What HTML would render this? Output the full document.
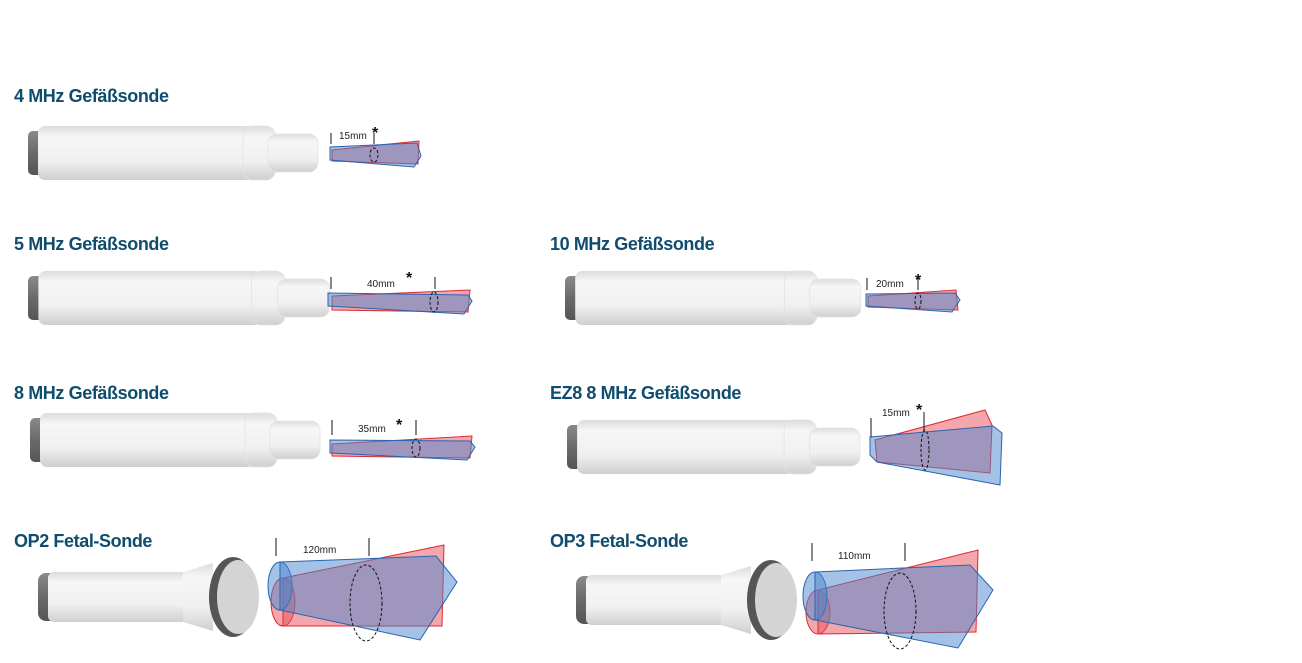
<!DOCTYPE html>
<html><head><meta charset="utf-8"><style>
html,body{margin:0;padding:0;background:#fff;}
svg{display:block}
.h{font-family:"Liberation Sans",sans-serif;font-weight:bold;font-size:18px;fill:#0f4c6e;letter-spacing:-0.4px}
.d{font-family:"Liberation Sans",sans-serif;font-size:10px;fill:#222}
.a{font-family:"Liberation Sans",sans-serif;font-size:16px;fill:#111;font-weight:bold}
.b{fill:#4a86cc;fill-opacity:.5;stroke:#2a64b0;stroke-width:1}
.r{fill:#e8505a;fill-opacity:.5;stroke:#e02830;stroke-width:1}
.e{fill:none;stroke:#111;stroke-width:1;stroke-dasharray:3,2}
.t{stroke:#111;stroke-width:1}
</style></head><body>
<svg width="1302" height="663" viewBox="0 0 1302 663">
<defs>
<linearGradient id="g" x1="0" y1="0" x2="0" y2="1">
<stop offset="0" stop-color="#dcdcdc"/><stop offset=".2" stop-color="#f6f6f6"/><stop offset=".65" stop-color="#f0f0f0"/><stop offset="1" stop-color="#cfcfcf"/></linearGradient>
<linearGradient id="gc" x1="0" y1="0" x2="0" y2="1">
<stop offset="0" stop-color="#8a8a8a"/><stop offset=".5" stop-color="#6a6a6a"/><stop offset="1" stop-color="#555"/></linearGradient>
<g id="pen">
<rect x="0" y="-22" width="22" height="44" rx="5" fill="url(#gc)"/>
<rect x="10" y="-27" width="215" height="54" rx="7" fill="url(#g)"/>
<rect x="215" y="-27" width="32" height="54" rx="9" fill="url(#g)" stroke="#e2e2e2" stroke-width=".8"/>
<rect x="240" y="-19" width="50" height="38" rx="9" fill="url(#g)" stroke="#e4e4e4" stroke-width=".8"/>
</g>
<g id="fet">
<rect x="0" y="-24" width="22" height="48" rx="8" fill="url(#gc)"/>
<rect x="10" y="-25" width="140" height="50" rx="6" fill="url(#g)"/>
<path d="M145 -25 L175 -34 L175 34 L145 25Z" fill="url(#g)"/>
<ellipse cx="195" cy="0" rx="24" ry="40" fill="#555"/>
<ellipse cx="200" cy="0" rx="21" ry="37" fill="#d4d4d4"/>
</g>
</defs>

<text class="h" x="14" y="102">4 MHz Gefäßsonde</text>
<text class="h" x="14" y="250">5 MHz Gefäßsonde</text>
<text class="h" x="550" y="250">10 MHz Gefäßsonde</text>
<text class="h" x="14" y="399">8 MHz Gefäßsonde</text>
<text class="h" x="550" y="399">EZ8 8 MHz Gefäßsonde</text>
<text class="h" x="14" y="547">OP2 Fetal-Sonde</text>
<text class="h" x="550" y="547">OP3 Fetal-Sonde</text>

<use href="#pen" transform="translate(28,153)"/>
<use href="#pen" transform="translate(28,298) scale(1.04,1)"/>
<use href="#pen" transform="translate(565,298) scale(1.02,1)"/>
<use href="#pen" transform="translate(30,440)"/>
<use href="#pen" transform="translate(567,447) scale(1.01,1)"/>
<use href="#fet" transform="translate(38,597)"/>
<use href="#fet" transform="translate(576,600)"/>

<!-- 4MHz beam -->
<polygon class="r" points="332,150 419,141 418,164 332,161"/>
<polygon class="b" points="330,147 417,143 421,156 414,167 330,160"/>
<ellipse class="e" cx="374" cy="155" rx="4" ry="7"/>
<line class="t" x1="331" y1="133" x2="331" y2="144"/><line class="t" x1="374" y1="133" x2="374" y2="144"/>
<text class="d" x="339" y="139">15mm</text><text class="a" x="372" y="138">*</text>

<!-- 5MHz -->
<polygon class="r" points="332,296 470,290 468,312 332,310"/>
<polygon class="b" points="328,293 468,295 472,301 464,314 328,306"/>
<ellipse class="e" cx="434" cy="302" rx="4" ry="10"/>
<line class="t" x1="331" y1="277" x2="331" y2="289"/><line class="t" x1="435" y1="277" x2="435" y2="289"/>
<text class="d" x="367" y="287">40mm</text><text class="a" x="406" y="283">*</text>

<!-- 10MHz -->
<polygon class="r" points="868,296 956,290 958,310 868,307"/>
<polygon class="b" points="866,294 955,293 960,300 952,312 866,306"/>
<ellipse class="e" cx="918" cy="301" rx="3" ry="8"/>
<line class="t" x1="867" y1="278" x2="867" y2="290"/><line class="t" x1="918" y1="278" x2="918" y2="290"/>
<text class="d" x="876" y="287">20mm</text><text class="a" x="915" y="285">*</text>

<!-- 8MHz -->
<polygon class="r" points="332,444 472,436 470,458 332,456"/>
<polygon class="b" points="330,440 470,441 475,447 467,460 330,453"/>
<ellipse class="e" cx="416" cy="448" rx="4" ry="9"/>
<line class="t" x1="332" y1="420" x2="332" y2="435"/><line class="t" x1="416" y1="420" x2="416" y2="435"/>
<text class="d" x="358" y="432">35mm</text><text class="a" x="396" y="430">*</text>

<!-- EZ8 -->
<polygon class="r" points="875,440 985,410 992,425 990,473 877,462"/>
<polygon class="b" points="870,437 993,426 1002,433 1000,485 877,462 870,455"/>
<ellipse class="e" cx="925" cy="450" rx="4" ry="20"/>
<line class="t" x1="871" y1="418" x2="871" y2="437"/><line class="t" x1="924" y1="412" x2="924" y2="432"/>
<text class="d" x="882" y="416">15mm</text><text class="a" x="916" y="415">*</text>

<!-- OP2 -->
<ellipse class="r" cx="283" cy="602" rx="12" ry="24"/>
<polygon class="r" points="283,578 444,545 442,626 283,626"/>
<ellipse class="b" cx="280" cy="586" rx="12" ry="24"/>
<polygon class="b" points="280,562 436,556 457,582 420,640 280,610"/>
<ellipse class="e" cx="366" cy="603" rx="16" ry="38"/>
<line class="t" x1="276" y1="538" x2="276" y2="556"/><line class="t" x1="369" y1="538" x2="369" y2="556"/>
<text class="d" x="303" y="553">120mm</text>

<!-- OP3 -->
<ellipse class="r" cx="818" cy="612" rx="12" ry="22"/>
<polygon class="r" points="818,590 978,550 976,632 818,634"/>
<ellipse class="b" cx="815" cy="596" rx="12" ry="24"/>
<polygon class="b" points="815,572 970,565 993,590 958,648 815,620"/>
<ellipse class="e" cx="900" cy="611" rx="16" ry="38"/>
<line class="t" x1="812" y1="543" x2="812" y2="561"/><line class="t" x1="905" y1="543" x2="905" y2="561"/>
<text class="d" x="838" y="559">110mm</text>
</svg>
</body></html>
